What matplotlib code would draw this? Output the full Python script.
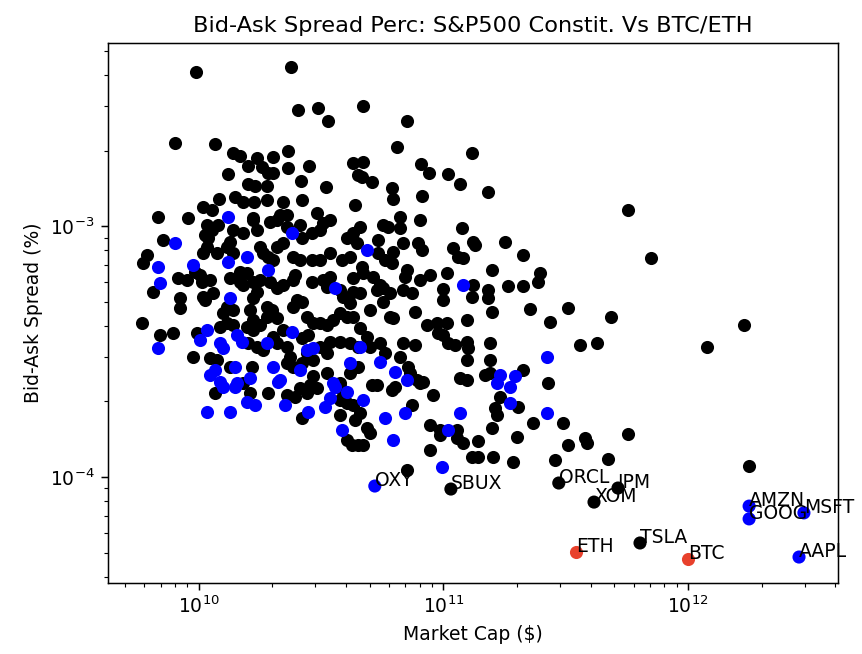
import numpy as np
import matplotlib
matplotlib.use("Agg")
import matplotlib.pyplot as plt

# values, as log10(market cap in $) and log10(bid-ask spread)
black_cap = [
    9.988, 10.376, 10.405, 10.487, 10.528, 9.902, 10.065, 10.671, 10.851, 10.810,
    11.117, 10.671, 10.908, 10.941, 11.018, 11.067, 11.182, 10.667, 10.708, 10.789,
    10.793, 10.912, 10.822, 10.904, 10.139, 10.168, 10.237, 10.303, 10.364, 10.200,
    10.258, 10.282, 10.303, 10.364, 10.450, 10.119, 10.200, 10.229, 10.278, 10.417,
    10.519, 10.630, 10.650, 10.638, 10.082, 10.147, 10.180, 10.225, 10.278, 10.344,
    10.421, 10.016, 10.053, 9.832, 9.955, 10.221, 10.331, 10.360, 10.483, 10.536,
    11.755, 11.849, 11.685, 12.078, 12.229, 11.755, 11.673, 12.250,
    10.033, 10.053, 10.025, 10.037, 10.078, 10.139, 10.180, 10.221, 10.237, 10.290,
    10.319, 10.360, 10.413, 10.421, 10.462, 10.495, 10.507, 10.605, 10.630, 10.646,
    9.853, 9.787, 9.771, 9.812, 9.914, 9.951, 9.984, 10.004, 10.033, 10.016,
    10.074, 10.115, 10.127, 10.139, 10.249, 10.262, 10.282, 10.303, 10.319, 10.344,
    10.384, 10.413, 10.462, 10.495, 10.536, 10.585, 10.618, 10.168, 10.196, 10.012,
    10.045, 10.016, 10.057, 10.025, 9.922, 9.922, 10.127, 10.168, 10.180, 10.221,
    10.249, 10.290, 10.319, 10.237, 10.221, 10.344, 10.384, 10.393, 10.401, 10.421,
    10.462, 10.507, 10.536, 10.524, 10.577, 10.589, 10.630, 10.630, 10.618, 10.115,
    10.139, 10.098, 10.278, 10.299, 10.278, 10.319, 10.209, 10.221, 10.384, 10.442,
    10.466, 10.495, 10.524, 10.548, 10.577, 10.605, 10.630, 9.767, 9.840, 9.894,
    9.992, 10.086, 10.115, 10.139, 10.196, 10.221, 10.249, 10.200, 10.237, 10.262,
    10.303, 10.319, 10.344, 10.360, 10.372, 10.421, 10.446, 10.495, 10.524, 10.536,
    10.577, 10.618, 10.650, 10.650, 9.975, 10.045, 10.074, 10.127, 10.217, 10.360,
    10.384, 10.421, 10.442, 10.466, 10.466, 10.524, 10.577, 10.618,
    10.065, 10.180, 10.209, 10.282, 10.360, 10.393, 10.413, 10.442, 10.454, 10.483,
    10.421, 10.585, 10.577, 10.605, 10.630, 10.577, 10.638, 10.605, 10.626, 10.650,
    10.658, 10.687, 10.699, 10.671, 10.708, 10.728, 10.789, 10.802, 10.871, 10.904,
    10.916, 10.957, 10.945, 10.986, 10.986, 11.055, 11.055, 11.080, 10.945, 10.851,
    11.117, 11.141, 11.141, 11.202, 11.198, 11.211, 11.219, 11.231, 11.305, 11.301,
    11.284, 11.366, 11.427, 11.489, 11.509, 11.579, 11.587, 11.456,
    10.658, 10.753, 10.773, 10.822, 10.732, 10.732, 10.793, 10.834, 10.896, 10.912,
    10.667, 10.671, 10.761, 10.789, 10.712, 10.740, 10.728, 10.753, 10.851, 10.843,
    10.904, 10.945, 10.834, 10.871, 10.658, 10.781, 10.753, 10.699, 10.781, 10.793,
    10.883, 10.933, 10.973, 11.014, 10.978, 10.998, 11.076, 11.121, 11.129, 11.039,
    11.059, 11.080, 11.252, 11.325, 11.014, 11.121, 11.117, 10.998, 10.998, 11.182,
    11.182, 11.198, 11.264, 11.325, 11.395, 11.387, 11.198, 11.096, 11.354, 11.436,
    11.509, 10.658, 10.687, 10.699, 10.740, 10.761, 10.834, 10.883, 10.822, 10.855,
    10.863, 10.892, 11.018, 11.047, 11.096, 11.100, 11.190, 11.096, 11.190, 11.067,
    11.096, 11.170, 11.190, 11.325, 11.558, 11.628,
]
black_spread = [
    -2.386, -2.367, -2.538, -2.530, -2.582, -2.669, -2.673, -2.522, -2.582, -2.685,
    -2.709, -2.745, -2.753, -2.789, -2.793, -2.833, -2.865, -2.805, -2.825, -2.849,
    -2.892, -2.880, -2.964, -2.976, -2.709, -2.721, -2.729, -2.725, -2.701, -2.761,
    -2.765, -2.789, -2.789, -2.769, -2.761, -2.793, -2.833, -2.841, -2.841, -2.821,
    -2.845, -2.749, -2.797, -2.916, -2.892, -2.884, -2.904, -2.904, -2.896, -2.904,
    -2.896, -2.924, -2.936, -2.964, -2.968, -2.968, -2.956, -2.956, -2.948, -2.976,
    -2.936, -3.127, -3.363, -3.482, -3.394, -3.829, -3.928, -3.956,
    -2.996, -3.016, -3.036, -3.048, -2.996, -3.016, -3.028, -2.976, -3.016, -2.984,
    -2.976, -3.004, -2.996, -3.048, -3.028, -3.016, -2.988, -3.048, -3.028, -3.068,
    -3.056, -3.116, -3.147, -3.263, -3.207, -3.215, -3.183, -3.195, -3.084, -3.108,
    -3.108, -3.084, -3.064, -3.108, -3.084, -3.108, -3.124, -3.135, -3.084, -3.068,
    -3.124, -3.135, -3.135, -3.135, -3.108, -3.135, -3.124, -3.183, -3.187, -3.223,
    -3.215, -3.283, -3.267, -3.295, -3.287, -3.327, -3.207, -3.223, -3.235, -3.223,
    -3.215, -3.223, -3.247, -3.263, -3.287, -3.235, -3.215, -3.195, -3.295, -3.303,
    -3.223, -3.215, -3.203, -3.243, -3.255, -3.283, -3.207, -3.263, -3.307, -3.323,
    -3.335, -3.347, -3.323, -3.335, -3.363, -3.367, -3.335, -3.375, -3.323, -3.363,
    -3.386, -3.386, -3.394, -3.375, -3.347, -3.363, -3.363, -3.386, -3.434, -3.426,
    -3.426, -3.402, -3.386, -3.394, -3.402, -3.414, -3.394, -3.466, -3.482, -3.494,
    -3.442, -3.466, -3.414, -3.482, -3.522, -3.446, -3.434, -3.482, -3.506, -3.462,
    -3.462, -3.466, -3.482, -3.562, -3.522, -3.526, -3.534, -3.562, -3.562, -3.546,
    -3.562, -3.546, -3.506, -3.534, -3.598, -3.586, -3.625, -3.586,
    -3.665, -3.625, -3.665, -3.665, -3.673, -3.681, -3.645, -3.665, -3.633, -3.645,
    -3.765, -3.653, -3.693, -3.705, -3.713, -3.753, -3.773, -3.853, -3.873, -3.873,
    -3.745, -3.805, -3.825, -3.873, -3.633, -3.633, -3.653, -3.641, -3.713, -3.625,
    -3.622, -3.673, -3.793, -3.813, -3.833, -3.813, -3.845, -3.865, -3.892, -3.972,
    -3.920, -3.920, -3.857, -3.920, -3.805, -3.725, -3.753, -3.681, -3.721, -3.841,
    -3.940, -3.785, -3.625, -3.785, -3.873, -3.845, -3.865, -3.932,
    -3.004, -2.996, -3.004, -3.008, -3.056, -3.108, -3.104, -3.068, -3.068, -3.096,
    -3.163, -3.187, -3.135, -3.147, -3.203, -3.235, -3.255, -3.247, -3.175, -3.203,
    -3.215, -3.195, -3.255, -3.267, -3.267, -3.267, -3.303, -3.335, -3.363, -3.367,
    -3.343, -3.394, -3.386, -3.386, -3.426, -3.434, -3.008, -3.064, -3.076, -3.088,
    -3.124, -3.127, -3.064, -3.116, -3.187, -3.235, -3.283, -3.251, -3.295, -3.255,
    -3.287, -3.175, -3.239, -3.239, -3.187, -3.223, -3.343, -3.375, -3.331, -3.382,
    -3.327, -3.406, -3.442, -3.482, -3.466, -3.506, -3.466, -3.474, -3.522, -3.562,
    -3.586, -3.614, -3.466, -3.474, -3.462, -3.486, -3.466, -3.534, -3.534, -3.606,
    -3.614, -3.594, -3.586, -3.574, -3.474, -3.466,
]

blue_cap = [
    10.119, 10.380, 9.902, 9.832, 9.840, 9.975, 10.119, 10.196, 10.282, 10.556,
    10.127, 9.832, 10.004, 10.033, 10.086, 10.098, 10.155, 10.176, 10.278, 10.380,
    10.442, 10.466, 10.618, 10.065, 10.045, 10.086, 10.147, 10.155, 10.209, 10.303,
    10.331, 10.413, 10.548, 10.033, 10.098, 10.127, 10.147, 10.196, 10.229, 10.323,
    10.352, 10.446, 10.515, 10.536, 10.556, 10.605, 10.585, 10.671, 10.761, 10.843,
    10.793, 11.018, 11.067, 10.994, 11.423, 10.687, 11.080, 10.658, 10.740, 10.802,
    10.851, 11.231, 11.292, 11.219, 11.272, 11.272, 11.423,
]
blue_spread = [
    -2.964, -3.028, -3.068, -3.163, -3.227, -3.155, -3.143, -3.124, -3.175, -3.247,
    -3.287, -3.486, -3.454, -3.414, -3.466, -3.486, -3.434, -3.462, -3.466, -3.422,
    -3.494, -3.486, -3.546, -3.574, -3.594, -3.622, -3.562, -3.625, -3.606, -3.562,
    -3.614, -3.574, -3.625, -3.741, -3.641, -3.741, -3.641, -3.701, -3.713, -3.622,
    -3.713, -3.741, -3.721, -3.685, -3.641, -3.661, -3.813, -3.693, -3.765, -3.745,
    -3.853, -3.813, -3.745, -3.960, -3.745, -3.096, -3.235, -3.482, -3.542, -3.582,
    -3.614, -3.594, -3.598, -3.625, -3.641, -3.705, -3.522,
]

labeled_names = ["OXY", "SBUX", "ORCL", "XOM", "JPM", "TSLA", "AMZN", "GOOG", "MSFT", "AAPL"]
labeled_cap = [10.720, 11.031, 11.472, 11.616, 11.714, 11.804, 12.250, 12.250, 12.474, 12.454]
labeled_spread = [-4.036, -4.048, -4.024, -4.100, -4.044, -4.263, -4.116, -4.167, -4.143, -4.319]
labeled_color = ["blue", "k", "k", "k", "k", "k", "blue", "blue", "blue", "blue"]

crypto_names = ["ETH", "BTC"]
crypto_cap = [11.542, 12.000]
crypto_spread = [-4.299, -4.327]

fig = plt.figure(figsize=(862 / 134.7, 654 / 134.7), dpi=134.7)
ax = fig.add_axes([0.125, 0.109, 0.847, 0.825])

ax.scatter(10 ** np.array(black_cap), 10 ** np.array(black_spread), c="k")
ax.scatter(10 ** np.array(blue_cap), 10 ** np.array(blue_spread), c="blue")
ax.scatter(10 ** np.array(labeled_cap), 10 ** np.array(labeled_spread), c=labeled_color)
ax.scatter(10 ** np.array(crypto_cap), 10 ** np.array(crypto_spread), c="#e8412c")

for name, x, y in zip(labeled_names, labeled_cap, labeled_spread):
    ax.annotate(name, (10 ** x, 10 ** y))
for name, x, y in zip(crypto_names, crypto_cap, crypto_spread):
    ax.annotate(name, (10 ** x, 10 ** y))

ax.set_xscale("log")
ax.set_yscale("log")
ax.set_xlim(4.25e9, 4.1e12)
ax.set_ylim(3.79e-5, 5.36e-3)
ax.set_title("Bid-Ask Spread Perc: S&P500 Constit. Vs BTC/ETH")
ax.set_xlabel("Market Cap ($)")
ax.set_ylabel("Bid-Ask Spread (%)")

fig.savefig("out.png", dpi=134.7)
